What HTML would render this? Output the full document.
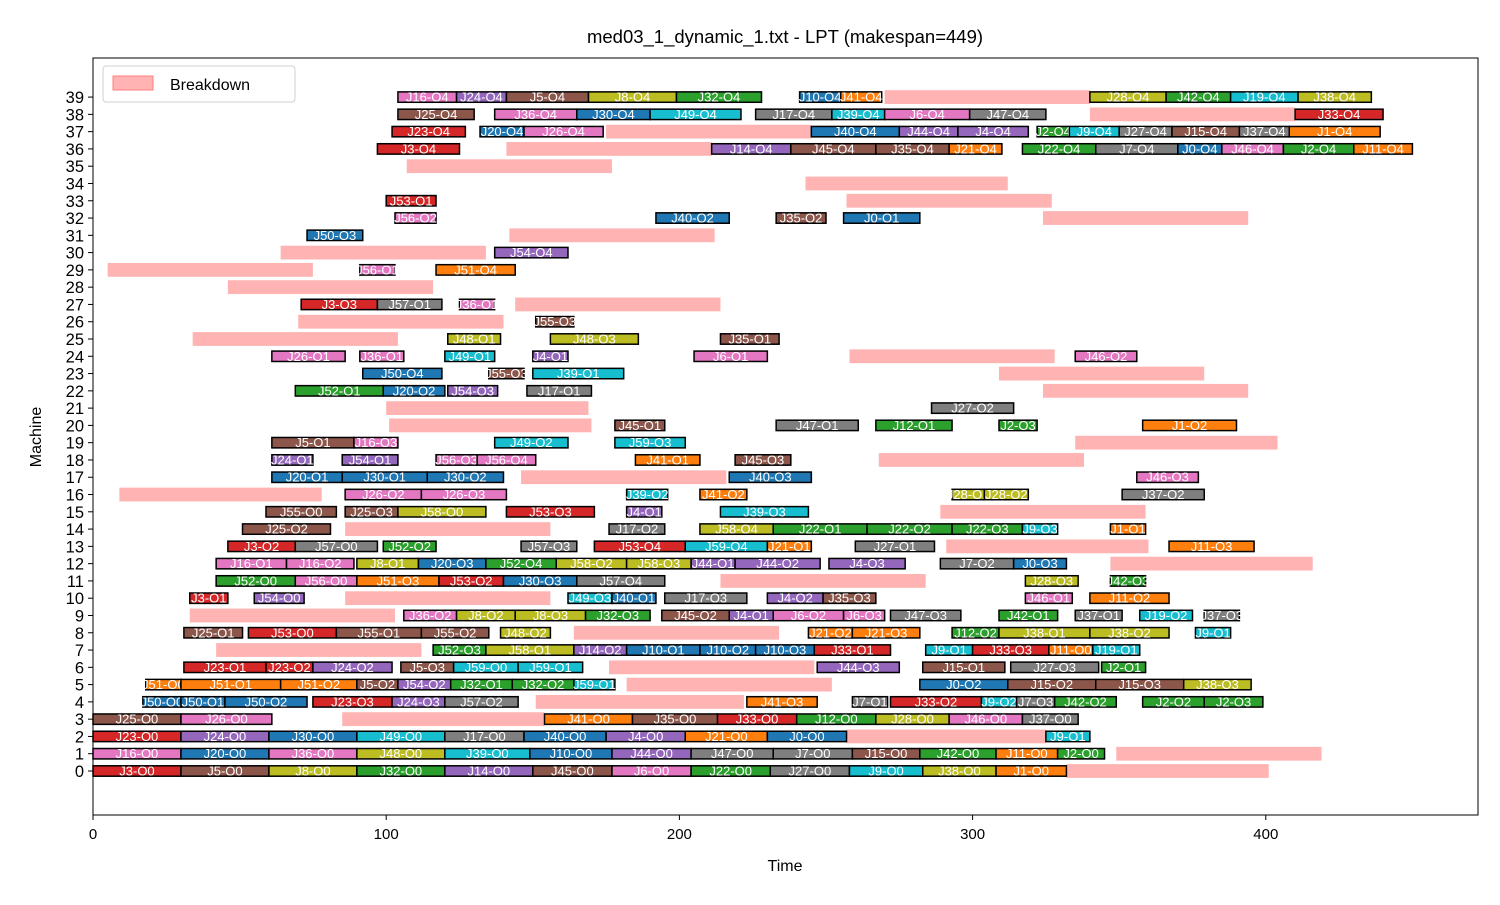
<!DOCTYPE html>
<html><head><meta charset="utf-8"><style>
body{margin:0;background:#fff;width:1500px;height:900px;overflow:hidden}
svg{font-family:"Liberation Sans","DejaVu Sans",sans-serif}
</style></head><body>
<svg id="chart" width="1500" height="900" viewBox="0 0 1500 900" xmlns="http://www.w3.org/2000/svg">
<rect x="0" y="0" width="1500" height="900" fill="#fff"/>
<text x="785" y="43" font-size="18.5" text-anchor="middle" fill="#000">med03_1_dynamic_1.txt - LPT (makespan=449)</text>
<g id="bd"></g><g id="bars"></g><g id="axes"></g>
<text x="785" y="871" font-size="16" text-anchor="middle">Time</text>
<text transform="translate(41,437) rotate(-90)" font-size="16" text-anchor="middle">Machine</text>
<g>
<rect x="103" y="66" width="192" height="36" rx="3" fill="#fff" stroke="#d0d0d0"/>
<rect x="113" y="76" width="40" height="14" fill="#ffb3b3" stroke="#ff7f7f"/>
<text x="170" y="90" font-size="16">Breakdown</text>
</g>
</svg>
<script>
const colors=["#1f77b4","#ff7f0e","#2ca02c","#d62728","#9467bd","#8c564b","#e377c2","#7f7f7f","#bcbd22","#17becf"];
// Operations: machine, job, op, start, end
const opMachine=[0,0,0,0,0,0,0,0,0,0,0,0,
1,1,1,1,1,1,1,1,1,1,1,1,1,
2,2,2,2,2,2,2,2,2,2,
3,3,3,3,3,3,3,3,3,
4,4,4,4,4,4,4,4,4,4,4,4,4,4,
5,5,5,5,5,5,5,5,5,5,5,5,
6,6,6,6,6,6,6,6,6,6,
7,7,7,7,7,7,7,7,7,7,7,
8,8,8,8,8,8,8,8,8,8,8,
9,9,9,9,9,9,9,9,9,9,9,9,9,
10,10,10,10,10,10,10,10,10,
11,11,11,11,11,11,11,11,
12,12,12,12,12,12,12,12,12,12,12,12,
13,13,13,13,13,13,13,13,13,
14,14,14,14,14,14,14,14,
15,15,15,15,15,15,
16,16,16,16,16,16,16,
17,17,17,17,17,
18,18,18,18,18,18,
19,19,19,19,
20,20,20,20,20,
21,
22,22,22,22,
23,23,23,
24,24,24,24,24,24,
25,25,25,
26,
27,27,27,
29,29,
30,
31,
32,32,32,32,
33,
36,36,36,36,36,36,36,36,36,36,36,
37,37,37,37,37,37,37,37,37,37,37,37,
38,38,38,38,38,38,38,38,38,
39,39,39,39,39,39,39,39,39,39,39];
const opJob=[3,5,8,32,14,45,6,22,27,9,38,1,
16,20,36,48,39,10,44,47,7,15,42,11,2,
23,24,30,49,17,40,4,21,0,9,
25,26,41,35,33,12,28,46,37,
50,50,50,23,24,57,41,7,33,9,7,42,2,2,
51,51,51,5,54,32,32,59,0,15,15,38,
23,23,24,5,59,59,44,15,27,2,
52,58,14,10,10,10,33,9,33,11,19,
25,53,55,55,48,21,21,12,38,38,9,
36,8,8,32,45,4,6,6,47,42,37,19,37,
3,54,49,40,17,4,35,46,11,
52,56,51,53,30,57,28,42,
16,16,8,20,52,58,58,44,44,4,7,0,
3,57,52,57,53,59,21,27,11,
25,17,58,22,22,22,9,1,
55,25,58,53,4,39,
26,26,39,41,28,28,37,
20,30,30,40,46,
24,54,56,56,41,45,
5,16,49,59,
45,47,12,2,1,
27,
52,20,54,17,
50,55,39,
26,36,49,4,6,46,
48,48,35,
55,
3,57,36,
56,51,
54,
50,
56,40,35,0,
53,
3,14,45,35,21,22,7,0,46,2,11,
23,20,26,40,44,4,2,9,27,15,37,1,
25,36,30,49,17,39,6,47,33,
16,24,5,8,32,10,41,28,42,19,38];
const opIdx=[0,0,0,0,0,0,0,0,0,0,0,0,
0,0,0,0,0,0,0,0,0,0,0,0,0,
0,0,0,0,0,0,0,0,0,1,
0,0,0,0,0,0,0,0,0,
0,1,2,3,3,2,3,1,2,2,3,2,2,3,
0,1,2,2,2,1,2,1,2,2,3,3,
1,2,2,3,0,1,3,1,3,1,
3,1,2,1,2,3,1,1,3,0,1,
1,0,1,2,2,2,3,2,1,2,1,
2,2,3,3,2,1,2,3,3,1,1,2,3,
1,0,3,1,3,2,3,1,2,
0,0,3,2,3,4,3,3,
1,2,1,3,4,2,3,1,2,3,2,3,
2,0,2,3,4,4,1,1,3,
2,2,4,1,2,3,3,1,
0,3,0,3,1,3,
2,3,2,2,1,2,2,
1,1,2,3,3,
1,1,3,4,1,3,
1,3,2,3,
1,1,1,3,2,
2,
1,2,3,1,
4,3,1,
1,1,1,1,1,2,
1,3,1,
3,
3,1,1,
1,4,
4,
3,
2,2,2,1,
1,
4,4,4,4,4,4,4,4,4,4,4,
4,4,4,4,4,4,4,4,4,4,4,4,
4,4,4,4,4,4,4,4,4,
4,4,4,4,4,4,4,4,4,4,4];
const opStart=[0,30,60,90,120,150,177,204,231,258,283,308,
0,30,60,90,120,149,177,204,232,259,282,308,329,
0,30,60,90,120,147,175,202,230,325,
0,30,154,184,213,240,267,292,317,
17,30,45,75,102,120,223,259,272,303,315,328,358,379,
18,30,64,90,104,122,143,164,282,312,342,372,
31,59,75,105,123,145,247,283,313,344,
116,134,164,182,207,226,246,284,300,326,341,
31,53,83,112,139,244,259,293,309,340,376,
106,124,144,168,194,217,232,256,272,309,335,357,379,
33,55,162,177,195,230,249,318,340,
42,69,90,118,140,165,318,347,
42,66,90,111,134,158,182,204,219,251,289,314,
46,69,99,146,171,202,230,260,367,
51,176,207,232,264,293,317,347,
59,86,104,141,182,214,
86,112,182,207,293,304,351,
61,85,114,217,356,
61,85,117,131,185,219,
61,89,137,178,
178,233,267,309,358,
286,
69,99,121,148,
92,135,150,
61,91,120,150,205,335,
121,156,214,
151,
71,97,125,
91,117,
137,
73,
103,192,233,256,
100,
97,211,238,267,292,317,342,370,385,406,430,
102,132,147,245,275,295,322,333,350,368,391,408,
104,137,165,190,226,252,270,299,410,
104,124,141,169,199,241,255,340,366,388,411];
const opEnd=[30,60,90,120,150,177,204,231,258,283,308,332,
30,60,90,120,149,177,204,232,259,282,308,329,345,
30,60,90,120,147,175,202,230,257,340,
30,61,184,213,240,267,292,317,336,
30,45,73,102,120,145,247,271,303,315,328,349,379,399,
30,64,90,104,122,143,164,178,312,342,372,395,
59,75,102,123,145,167,275,311,343,359,
134,164,182,207,226,246,272,300,326,341,357,
51,83,112,135,156,259,282,309,340,367,388,
124,144,168,190,217,232,256,270,296,329,351,375,391,
46,72,177,192,223,249,267,334,367,
69,90,118,140,165,195,336,359,
66,89,111,134,158,182,204,219,248,277,314,332,
69,97,117,165,202,230,245,287,396,
81,195,232,264,293,317,329,359,
83,104,134,171,194,244,
112,141,196,223,304,319,379,
85,114,140,245,377,
75,104,131,151,207,238,
89,104,162,202,
195,261,293,322,390,
314,
99,120,138,170,
119,147,181,
86,106,137,162,230,356,
139,186,234,
164,
97,119,137,
103,144,
162,
92,
117,217,250,282,
117,
125,238,267,292,310,342,370,385,406,430,450,
127,147,174,275,295,319,333,350,368,391,408,439,
130,165,190,221,252,270,299,325,440,
124,141,169,199,228,255,269,366,388,411,436];
// Breakdowns: machine, start, end
const bdMachine=[0,1,2,3,4,5,6,7,8,9,10,11,12,13,14,15,16,17,18,19,20,21,22,23,24,25,26,27,28,29,30,31,32,33,34,35,36,37,38,39];
const bdStart=[332,349,257,85,151,182,176,42,164,33,86,214,347,291,86,289,9,146,268,335,101,100,324,309,258,34,70,144,46,5,64,142,324,257,243,107,141,175,340,270];
const bdEnd=[401,419,325,154,222,252,246,112,234,103,156,284,416,360,156,359,78,216,338,404,170,169,394,379,328,104,140,214,116,75,134,212,394,327,312,177,211,245,410,340];
const xTicks=[0,100,200,300,400];
const yTicks=Array.from({length:40},(_,i)=>i);

const X0=93,XS=2.932,Y0=771,YS=17.28;
const xs=t=>X0+t*XS, ys=m=>Y0-m*YS;
const NS="http://www.w3.org/2000/svg";
function mk(tag,parent,attrs){const e=document.createElementNS(NS,tag);for(const k in attrs)e.setAttribute(k,attrs[k]);parent.appendChild(e);return e;}
const gBd=document.getElementById('bd'),gBars=document.getElementById('bars'),gAx=document.getElementById('axes');
for(let i=0;i<bdMachine.length;i++){
  const r=mk('rect',gBd,{x:xs(bdStart[i]),y:ys(bdMachine[i])-6.9,width:(bdEnd[i]-bdStart[i])*XS,height:13.8,fill:'#ffb3b3'});
  
  
}
for(let i=0;i<opMachine.length;i++){
  const x1=xs(opStart[i]),x2=xs(opEnd[i]),y=ys(opMachine[i]);
  const r=mk('rect',gBars,{x:x1,y:y-5.2,width:x2-x1,height:10.4,fill:colors[opJob[i]%10],stroke:'#000','stroke-width':1.5});
  
  
  const t=mk('text',gBars,{x:(x1+x2)/2,y:y+4.5,'font-size':13,'text-anchor':'middle',fill:'#fff'});
  t.textContent='J'+opJob[i]+'-O'+opIdx[i];
  
  
}
const fr=mk('rect',gAx,{x:93,y:58,width:1385,height:757,fill:'none',stroke:'#000','stroke-width':1});


xTicks.forEach(v=>{
  mk('line',gAx,{x1:xs(v),x2:xs(v),y1:815,y2:820,stroke:'#000'});
  const t=mk('text',gAx,{x:xs(v),y:839,'font-size':15,'text-anchor':'middle'});t.textContent=v;
  
  
});
yTicks.forEach(v=>{
  mk('line',gAx,{x1:88,x2:93,y1:ys(v),y2:ys(v),stroke:'#000'});
  const t=mk('text',gAx,{x:84,y:ys(v)+6,'font-size':16.5,'text-anchor':'end'});t.textContent=v;
  
  
});
</script>
</body></html>
